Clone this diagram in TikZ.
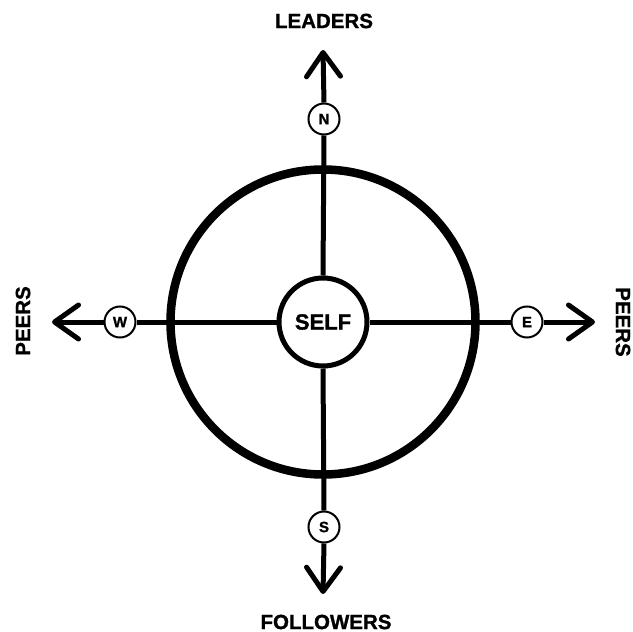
\documentclass[tikz,border=0pt]{standalone}
\usepackage{fontspec}
\setmainfont{Liberation Sans}[BoldFeatures={FakeBold=1.2}]
\usetikzlibrary{arrows.meta}
\begin{document}
\begin{tikzpicture}[x=1pt,y=-1pt,
  lbl/.style={font=\fontsize{20.5}{20.5}\selectfont\bfseries, inner sep=0pt},
  small/.style={circle, draw, line width=2pt, fill=white, minimum size=31pt, inner sep=0pt, font=\fontsize{15}{15}\selectfont\bfseries},
  shaft/.style={line width=5pt},
  arr/.style={line width=5pt, -{Straight Barb[length=24pt,width=34pt,line width=5pt,round]}}]
\useasboundingbox (0,0) rectangle (633,632);
\coordinate (c) at (323,322);
\draw[line width=8.5pt] (c) circle (152.5);
\coordinate (ntip) at (323,50);
\coordinate (stip) at (323,594);
\coordinate (wtip) at (52,322);
\coordinate (etip) at (595,322);
\node[small] (N) at (324,119) {N};
\node[small] (S) at (324,527) {S};
\node[small] (W) at (120,322) {W};
\node[small] (E) at (527,322) {E};
\node[circle, draw, line width=5pt, fill=white, minimum size=88pt, inner sep=0pt, font=\fontsize{22}{22}\selectfont\bfseries] (self) at (c) {SELF};
\draw[shaft] (self.north) -- (N.south);
\draw[shaft] (self.south) -- (S.north);
\draw[shaft] (self.west) -- (W.east);
\draw[shaft] (self.east) -- (E.west);
\draw[arr] (N.north) -- (ntip);
\draw[arr] (S.south) -- (stip);
\draw[arr] (W.west) -- (wtip);
\draw[arr] (E.east) -- (etip);
\node[lbl] (leaders) at (324,21) {LEADERS};
\node[lbl] (followers) at (326,622) {FOLLOWERS};
\node[lbl, rotate=90] (pw) at (23,321) {PEERS};
\node[lbl, rotate=-90] (pe) at (623,322) {PEERS};
\end{tikzpicture}
\end{document}
